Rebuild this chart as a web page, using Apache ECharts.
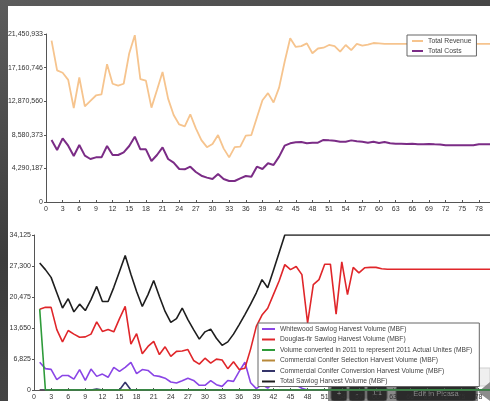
<!DOCTYPE html>
<html>
<head>
<meta charset="utf-8">
<script src="https://cdn.jsdelivr.net/npm/echarts@6/dist/echarts.min.js"></script>
<style>
  html, body { margin: 0; padding: 0; width: 490px; height: 401px; overflow: hidden; }
  body { background: linear-gradient(160deg, #5c5c5c, #3c3c3c 45%, #4e4e4e); }
  #panel { position: absolute; left: 8px; top: 6px; width: 482px; height: 395px; background: #fff; }
  #chart { position: absolute; left: 0; top: 0; width: 490px; height: 401px; }
</style>
</head>
<body>
<div id="panel"></div>
<div id="chart"></div>
<script>
// periods 1..80
var periods = []
for (var i = 1; i <= 80; i++) periods.push(i)

// top chart, millions of dollars
var revenue = [
  20.6, 16.8, 16.5, 15.6, 12.0, 15.9, 12.2, 12.9, 13.6, 13.75,
  17.6, 15.1, 14.85, 15.1, 19.0, 21.3, 15.7, 15.5, 12.05, 14.3,
  16.6, 13.2, 11.1, 9.9, 9.66, 11.2, 9.4, 7.9, 7.0, 7.4,
  8.55, 6.85, 5.7, 7.0, 7.07, 8.47, 8.55, 10.8, 13.0, 13.9,
  12.7, 14.6, 17.9, 20.9, 19.8, 19.9, 20.25, 19.0, 19.6, 19.7,
  20.05, 19.9, 19.2, 20.05, 19.4, 20.2, 19.97, 20.1, 20.3, 20.25,
  20.2, 20.2, 20.2, 20.2, 20.2, 20.2, 20.2, 20.2, 20.2, 20.2,
  20.2, 20.2, 20.2, 20.2, 20.2, 20.2, 20.2, 20.2, 20.2, 20.2
]
var costs = [
  7.92, 6.64, 8.13, 7.19, 5.87, 7.28, 5.92, 5.49, 5.70, 5.70,
  7.15, 6.0, 6.0, 6.34, 7.15, 8.34, 6.72, 6.72, 5.23, 6.0,
  6.98, 5.49, 5.02, 4.21, 4.17, 4.51, 3.83, 3.36, 3.11, 2.94,
  3.58, 2.94, 2.68, 2.68, 3.02, 3.32, 3.23, 4.51, 4.21, 4.94,
  4.72, 5.79, 7.19, 7.49, 7.62, 7.66, 7.49, 7.57, 7.57, 7.92,
  7.87, 7.83, 7.70, 7.70, 7.87, 7.75, 7.70, 7.57, 7.70, 7.53,
  7.66, 7.49, 7.45, 7.45, 7.40, 7.45, 7.38, 7.38, 7.40, 7.36,
  7.33, 7.24, 7.24, 7.24, 7.24, 7.24, 7.24, 7.36, 7.36, 7.36
]

// bottom chart, thousands of MBF
var whitewood = [
  6.1, 4.7, 4.55, 2.3, 3.2, 3.2, 2.4, 4.5, 2.1, 4.6,
  3.0, 3.5, 2.8, 5.0, 4.1, 5.0, 6.1, 3.6, 4.5, 4.3,
  3.2, 3.0, 2.6, 1.76, 1.54, 2.05, 2.6, 2.1, 1.03, 1.03,
  2.05, 1.17, 0.8, 2.1, 1.9, 4.1, 6.1, 1.6, 0.3, 1.2,
  0.4, 1.5, 0.8, 1.2, 0.9, 1.1, 0.4, 0, 0, 0,
  0, 0, 0, 0, 0, 0, 0, 0, 0, 0,
  0, 0, 0, 0, 0, 0, 0, 0, 0, 0,
  0, 0, 0, 0, 0, 0, 0, 0, 0, 0
]
var douglasFir = [
  17.8, 18.2, 18.2, 13.3, 10.6, 13.1, 12.3, 11.6, 11.7, 12.3,
  15.0, 12.9, 13.3, 12.8, 15.7, 18.4, 10.1, 12.4, 8.0, 9.6,
  10.7, 7.8, 9.5, 7.4, 8.5, 8.6, 8.9, 6.5, 5.7, 7.0,
  5.9, 6.8, 6.6, 4.7, 6.2, 4.5, 4.8, 9.0, 14.0, 16.5,
  18.0, 21.0, 24.0, 27.6, 26.5, 27.2, 25.4, 14.75, 23.2, 24.3,
  27.7, 27.7, 16.7, 28.2, 21.0, 27.0, 25.8, 26.9, 27.0, 27.0,
  26.7, 26.6, 26.6, 26.6, 26.6, 26.6, 26.6, 26.6, 26.6, 26.6,
  26.6, 26.6, 26.6, 26.6, 26.6, 26.6, 26.6, 26.6, 26.6, 26.6
]
var converted2011 = [
  17.8, 0, 0, 0, 0, 0, 0, 0, 0, 0,
  0, 0, 0, 0, 0, 0, 0, 0, 0, 0,
  0, 0, 0, 0, 0, 0, 0, 0, 0, 0,
  0, 0, 0, 0, 0, 0, 0, 0, 0, 0,
  0, 0, 0, 0, 0, 0, 0, 0, 0, 0,
  0, 0, 0, 0, 0, 0, 0, 0, 0, 0,
  0, 0, 0, 0, 0, 0, 0, 0, 0, 0,
  0, 0, 0, 0, 0, 0, 0, 0, 0, 0
]
var coniferSelection = [
  0, 0, 0, 0, 0, 0, 0, 0, 0, 0,
  0, 0, 0, 0, 0, 0, 0, 0, 0, 0,
  0, 0, 0, 0, 0, 0, 0, 0, 0, 0,
  0, 0, 0, 0, 0, 0, 0, 0, 0, 0,
  0, 0, 0, 0, 0, 0, 0, 0, 0, 0,
  0, 0, 0, 0, 0, 0, 0, 0, 0, 0,
  0, 0, 0, 0, 0, 0, 0, 0, 0, 0,
  0, 0, 0, 0, 0, 0, 0, 0, 0, 0
]
var coniferConversion = [
  0, 0, 0, 0, 0, 0, 0, 0, 0, 0,
  0.2, 0, 0, 0, 0, 1.7, 0, 0, 0, 0,
  0, 0, 0, 0, 0, 0, 0, 0, 0, 0,
  0, 0, 0, 0, 0, 0, 0, 0, 0, 0,
  0, 0, 0, 0, 0, 0, 0, 0, 0, 0,
  0, 0, 0, 0, 0, 0, 0, 0, 0, 0,
  0, 0, 0, 0, 0, 0, 0, 0, 0, 0,
  0, 0, 0, 0, 0, 0, 0, 0, 0, 0
]
var totalSawlog = [
  27.96, 26.5, 24.8, 21.4, 18.05, 20.1, 17.2, 18.9, 17.5, 19.9,
  22.8, 19.5, 19.5, 22.6, 26.1, 29.6, 25.5, 21.7, 18.4, 21.0,
  24.1, 20.6, 17.3, 14.9, 15.7, 18.05, 15.5, 13.3, 11.2, 12.8,
  13.4, 11.4, 9.83, 10.6, 12.3, 14.4, 16.6, 18.9, 21.4, 24.3,
  22.5, 26.3, 30.2, 34.125, 34.125, 34.125, 34.125, 34.125, 34.125, 34.125,
  34.125, 34.125, 34.125, 34.125, 34.125, 34.125, 34.125, 34.125, 34.125, 34.125,
  34.125, 34.125, 34.125, 34.125, 34.125, 34.125, 34.125, 34.125, 34.125, 34.125,
  34.125, 34.125, 34.125, 34.125, 34.125, 34.125, 34.125, 34.125, 34.125, 34.125
]

var topMax = 21450933
var bottomMax = 34125

var topNames = ['Total Revenue', 'Total Costs']
var bottomNames = [
  'Whitewood Sawlog Harvest Volume (MBF)',
  'Douglas-fir Sawlog Harvest Volume (MBF)',
  'Volume converted in 2011 to represent 2011 Actual Unites (MBF)',
  'Commercial Conifer Selection Harvest Volume (MBF)',
  'Commercial Conifer Conversion Harvest Volume (MBF)',
  'Total Sawlog Harvest Volume (MBF)'
]

function pairs(values, scale) {
  return values.map(function (v, i) { return [periods[i], v * scale] })
}

var font = 'Liberation Sans'
var textStyle = { color: '#333', fontSize: 7, fontFamily: font }

function xAxisOf(grid) {
  return {
    gridIndex: grid, type: 'value', min: 0, max: 80, interval: 3,
    axisLine: { lineStyle: { color: '#555', width: 1 } },
    axisTick: { inside: true, length: 2, lineStyle: { color: '#555' } },
    axisLabel: Object.assign({ margin: 4, showMaxLabel: false }, textStyle),
    splitLine: { show: false }
  }
}
function yAxisOf(grid, max) {
  return {
    gridIndex: grid, type: 'value', min: 0, max: max, interval: max / 5,
    axisLine: { show: true, lineStyle: { color: '#555', width: 1 } },
    axisTick: { show: true, length: 2, lineStyle: { color: '#555' } },
    axisLabel: Object.assign({
      margin: 3,
      formatter: function (v) { return Math.round(v).toLocaleString('en-US') }
    }, textStyle),
    splitLine: { show: false }
  }
}
function line(name, data, color, width, grid, z) {
  return {
    name: name, type: 'line', xAxisIndex: grid, yAxisIndex: grid,
    data: data, symbol: 'none', z: z || 2,
    lineStyle: { color: color, width: width },
    itemStyle: { color: color }
  }
}

var chart = echarts.init(document.getElementById('chart'))
chart.setOption({
  animation: false,
  grid: [
    { left: 46, top: 34, width: 451, height: 168 },
    { left: 34, top: 235, width: 462, height: 155 }
  ],
  xAxis: [xAxisOf(0), xAxisOf(1)],
  yAxis: [yAxisOf(0, topMax), yAxisOf(1, bottomMax)],
  legend: [
    {
      data: topNames, orient: 'vertical', left: 407, top: 35,
      backgroundColor: '#fff', borderColor: '#666', borderWidth: 1, borderRadius: 0,
      padding: [2, 5, 1, 5], itemWidth: 11, itemHeight: 2, itemGap: 2,
      icon: 'rect', textStyle: Object.assign({}, textStyle, { lineHeight: 8, fontSize: 6.8, color: '#444' })
    },
    {
      data: bottomNames, orient: 'vertical', left: 258, top: 323,
      backgroundColor: '#fff', borderColor: '#666', borderWidth: 1, borderRadius: 0,
      padding: [2, 7, 1, 4], itemWidth: 13, itemHeight: 2, itemGap: 2.5,
      icon: 'rect', textStyle: Object.assign({}, textStyle, { lineHeight: 8, fontSize: 6.7, color: '#444' })
    }
  ],
  series: [
    line('Total Revenue', pairs(revenue, 1e6), '#f6c48e', 1.8, 0),
    line('Total Costs', pairs(costs, 1e6), '#7b2c86', 2, 0),
    line(bottomNames[0], pairs(whitewood, 1000), '#8a45e6', 1.6, 1),
    line(bottomNames[1], pairs(douglasFir, 1000), '#e0262a', 1.6, 1),
    line(bottomNames[3], pairs(coniferSelection, 1000), '#b8893a', 1.6, 1),
    line(bottomNames[4], pairs(coniferConversion, 1000), '#35356a', 1.6, 1),
    line(bottomNames[5], pairs(totalSawlog, 1000), '#1e1e1e', 1.6, 1),
    line(bottomNames[2], pairs(converted2011, 1000), '#2e9b3a', 1.6, 1, 3)
  ],
  graphic: [
    {
      type: 'group', z: 100, children: [
        { type: 'rect', shape: { x: 448, y: 368, width: 42, height: 18 }, style: { fill: 'rgba(236,236,236,0.85)', stroke: '#cfcfcf' } },
        { type: 'rect', shape: { x: 453, y: 380, width: 14, height: 5 }, style: { fill: '#5aa55a' } },
        { type: 'rect', shape: { x: 328, y: 385, width: 150, height: 16 }, style: { fill: 'rgba(40,40,40,0.55)' } },
        { type: 'rect', shape: { x: 331, y: 386, width: 16, height: 15, r: 3 }, style: { fill: '#2b2b2b', stroke: '#555' } },
        { type: 'text', style: { x: 339, y: 393.5, text: '+', fill: '#9a9a9a', fontSize: 8, fontFamily: font, align: 'center', verticalAlign: 'middle' } },
        { type: 'rect', shape: { x: 349, y: 386, width: 16, height: 15, r: 3 }, style: { fill: '#2b2b2b', stroke: '#555' } },
        { type: 'text', style: { x: 357, y: 393.5, text: '-', fill: '#9a9a9a', fontSize: 8, fontFamily: font, align: 'center', verticalAlign: 'middle' } },
        { type: 'rect', shape: { x: 367, y: 386, width: 20, height: 15, r: 3 }, style: { fill: '#2b2b2b', stroke: '#555' } },
        { type: 'text', style: { x: 377, y: 393.5, text: '1:1', fill: '#9a9a9a', fontSize: 7, fontFamily: font, align: 'center', verticalAlign: 'middle' } },
        { type: 'rect', shape: { x: 396, y: 386, width: 80, height: 15, r: 3 }, style: { fill: '#2b2b2b', stroke: '#555' } },
        { type: 'text', style: { x: 436, y: 393.5, text: 'Edit in Picasa', fill: '#8a8a8a', fontSize: 7.5, fontFamily: font, align: 'center', verticalAlign: 'middle' } },
        { type: 'polygon', shape: { points: [[490, 382], [490, 401], [478, 392]] }, style: { fill: '#8c8c8c' } }
      ]
    }
  ]
})
</script>
</body>
</html>
